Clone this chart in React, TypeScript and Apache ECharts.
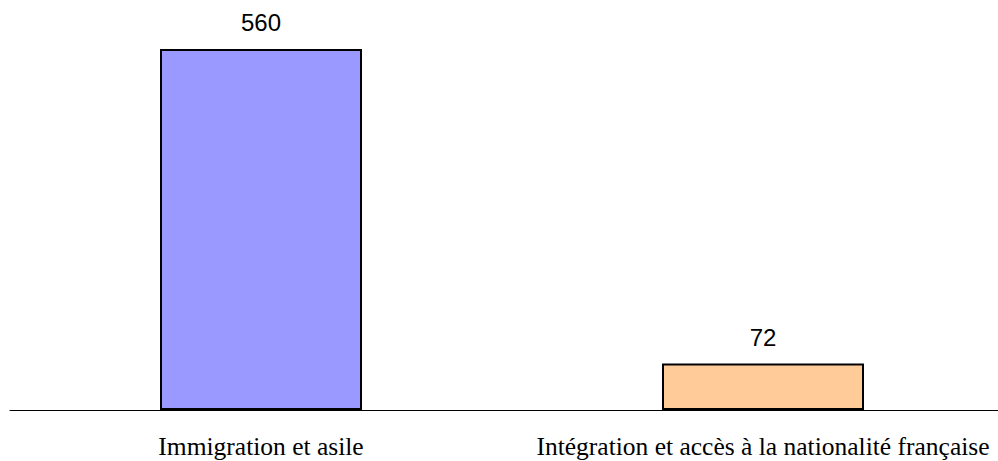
import React, { useEffect, useRef } from "react";
import * as echarts from "echarts";

const categories = ["Immigration et asile", "Intégration et accès à la nationalité française"];
const values = [560, 72];
const colors = ["#9999FF", "#FFCC99"];

export default function App() {
  const ref = useRef<HTMLDivElement>(null);
  useEffect(() => {
    const chart = echarts.init(ref.current!, null, { renderer: "svg" });
    chart.setOption({
      animation: false,
      grid: { left: 10, top: 23.2, right: -16, bottom: 51, containLabel: false, outerBoundsMode: "none" },
      xAxis: {
        type: "category",
        data: categories,
        axisLine: { show: true, lineStyle: { color: "#000", width: 1 } },
        axisTick: { show: false },
        axisLabel: {
          color: "#000",
          fontFamily: "'Liberation Serif', 'Times New Roman', serif",
          fontSize: 25.5,
          margin: 23,
          interval: 0,
        },
      },
      yAxis: {
        type: "value",
        min: 0,
        max: 600,
        show: false,
        splitLine: { show: false },
      },
      series: [
        {
          type: "bar",
          barWidth: 202,
          data: values.map((v, i) => ({
            value: v,
            itemStyle: { color: colors[i], borderColor: "#000", borderWidth: 2 },
          })),
          label: {
            show: true,
            position: "top",
            distance: 14,
            color: "#000",
            fontFamily: "'Liberation Sans', Arial, sans-serif",
            fontSize: 24,
          },
        },
      ],
    });
    return () => chart.dispose();
  }, []);
  return <div ref={ref} style={{ width: 998, height: 461, position: "absolute", left: 0, top: 0, overflow: "hidden" }} />;
}
